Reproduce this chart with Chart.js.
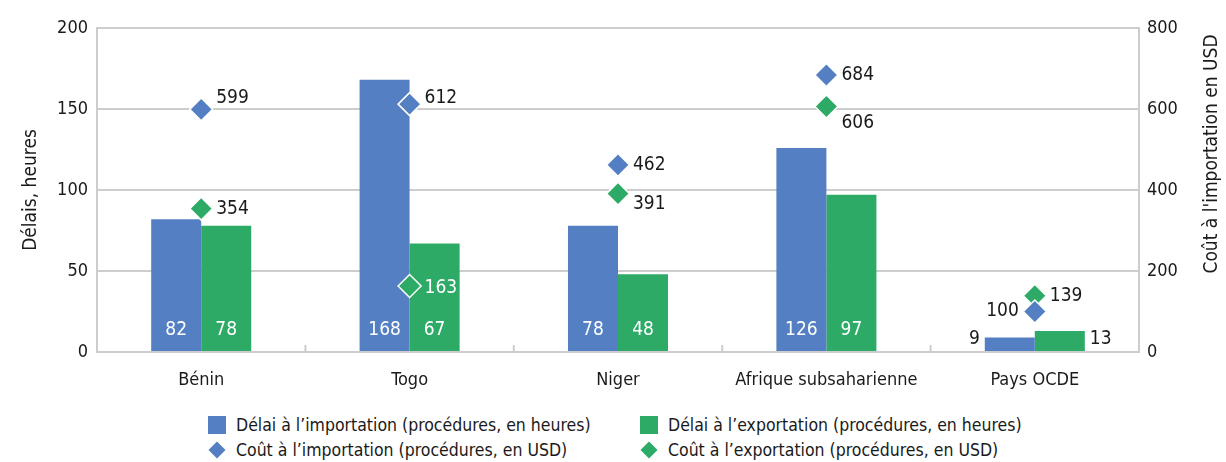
<!DOCTYPE html>
<html lang="fr">
<head>
<meta charset="utf-8">
<title>Délais et coûts à l'importation et à l'exportation</title>
<script src="https://cdn.jsdelivr.net/npm/chart.js@4.4.0/dist/chart.umd.min.js"></script>
<style>
    body { margin: 0; background: #fff; }
    #wrap { position: relative; width: 1226px; height: 462px; }
    #chartBox { position: absolute; left: 0; top: 0; width: 1226px; height: 400px; }
    #legend {
        position: absolute; left: 208px; top: 413px;
        display: grid; grid-template-columns: 432px auto; row-gap: 1px;
        font-family: 'DejaVu Sans Condensed', 'Liberation Sans', sans-serif;
        font-size: 17.5px; color: #1a1a1a;
    }
    .item { display: flex; align-items: center; height: 24px; white-space: nowrap; }
    .sq { width: 18px; height: 18px; margin-right: 10px; flex: none; }
    .dm { width: 12px; height: 12px; transform: rotate(45deg); margin: 0 13px 0 3px; flex: none; }
</style>
</head>
<body>
<div id="wrap">
    <div id="chartBox"><canvas id="tradeChart"></canvas></div>
    <div id="legend"></div>
</div>
<script>
// Data
const categories = ['Bénin', 'Togo', 'Niger', 'Afrique subsaharienne', 'Pays OCDE'];
const importTime = [82, 168, 78, 126, 9];
const exportTime = [78, 67, 48, 97, 13];
const importCost = [599, 612, 462, 684, 100];
const exportCost = [354, 163, 391, 606, 139];
const hoursTicks = [0, 50, 100, 150, 200];
const usdTicks = [0, 200, 400, 600, 800];
const seriesNames = [
    'Délai à l’importation (procédures, en heures)',
    'Délai à l’exportation (procédures, en heures)',
    'Coût à l’importation (procédures, en USD)',
    'Coût à l’exportation (procédures, en USD)'
];

const blue = '#5480c3';
const green = '#2dab66';
const textColor = '#1a1a1a';
const gridColor = '#cdcdcd';
const fontFamily = "'DejaVu Sans Condensed', 'Liberation Sans', sans-serif";

// Draws value labels on bars and next to the diamonds
const valueLabels = {
    id: 'valueLabels',
    afterDatasetsDraw(chart, args, opts) {
        const ctx = chart.ctx;
        ctx.save();
        ctx.font = `${opts.size}px ${fontFamily}`;
        ctx.textBaseline = 'middle';

        const rects = [];
        chart.data.datasets.forEach((ds, di) => {
            const meta = chart.getDatasetMeta(di);
            if (meta.type !== 'bar') return;
            meta.data.forEach((el) => {
                const p = el.getProps(['x', 'y', 'base', 'width'], true);
                rects.push({ l: p.x - p.width / 2, r: p.x + p.width / 2, t: p.y, b: p.base });
            });
        });

        chart.data.datasets.forEach((ds, di) => {
            const meta = chart.getDatasetMeta(di);
            meta.data.forEach((el, i) => {
                const value = ds.data[i];
                if (meta.type === 'bar') {
                    const p = el.getProps(['x', 'y', 'base', 'width'], true);
                    if (value >= opts.minInside) {
                        ctx.fillStyle = '#fff';
                        ctx.textAlign = 'center';
                        ctx.fillText(value, p.x, p.base - 21);
                    } else {
                        // short bars: label outside, beside the bar
                        ctx.fillStyle = textColor;
                        const leftSide = di === 0;
                        ctx.textAlign = leftSide ? 'right' : 'left';
                        const x = leftSide ? p.x - p.width / 2 - 5 : p.x + p.width / 2 + 5;
                        ctx.fillText(value, x, p.base - 12);
                    }
                } else {
                    const nudge = opts.nudge[di - 2] || [];
                    const dy = nudge[i] || 0;
                    const onLeft = (opts.leftOf[di - 2] || []).includes(i);
                    const x = onLeft ? el.x - 16 : el.x + 15;
                    const y = el.y + dy;
                    const probeX = onLeft ? x - 8 : x + 8;
                    const inside = rects.some(r => probeX > r.l && probeX < r.r && y > r.t && y < r.b);
                    ctx.fillStyle = inside ? '#fff' : textColor;
                    ctx.textAlign = onLeft ? 'right' : 'left';
                    ctx.fillText(value, x, y);
                }
            });
        });
        ctx.restore();
    }
};

// Small upward ticks between categories, and the right axis title read bottom-to-top
const axisExtras = {
    id: 'axisExtras',
    afterDraw(chart, args, opts) {
        const xs = chart.scales.x;
        const ctx = chart.ctx;
        const area = chart.chartArea;
        ctx.save();
        ctx.strokeStyle = gridColor;
        ctx.lineWidth = 2;
        for (let i = 0; i < categories.length - 1; i++) {
            const x = (xs.getPixelForValue(i) + xs.getPixelForValue(i + 1)) / 2;
            ctx.beginPath();
            ctx.moveTo(x, area.bottom);
            ctx.lineTo(x, area.bottom - 7);
            ctx.stroke();
        }

        ctx.translate(chart.width - 14, (area.top + area.bottom) / 2 - 36);
        ctx.rotate(-Math.PI / 2);
        ctx.font = `19px ${fontFamily}`;
        ctx.fillStyle = textColor;
        ctx.textAlign = 'center';
        ctx.textBaseline = 'middle';
        ctx.fillText(opts.rightTitle, 0, 0);
        ctx.restore();
    }
};

const ctx = document.getElementById('tradeChart').getContext('2d');

const tradeChart = new Chart(ctx, {
    type: 'bar',
    data: {
        labels: categories,
        datasets: [
            {
                label: seriesNames[0],
                data: importTime,
                backgroundColor: blue,
                categoryPercentage: 0.48,
                barPercentage: 1,
                yAxisID: 'y',
                order: 2
            },
            {
                label: seriesNames[1],
                data: exportTime,
                backgroundColor: green,
                categoryPercentage: 0.48,
                barPercentage: 1,
                yAxisID: 'y',
                order: 2
            },
            {
                type: 'line',
                label: seriesNames[2],
                data: importCost,
                showLine: false,
                pointStyle: 'rectRot',
                pointRadius: 11.5,
                pointBackgroundColor: blue,
                pointBorderColor: '#fff',
                pointBorderWidth: 1.5,
                yAxisID: 'y1',
                order: 0
            },
            {
                type: 'line',
                label: seriesNames[3],
                data: exportCost,
                showLine: false,
                pointStyle: 'rectRot',
                pointRadius: 11.5,
                pointBackgroundColor: green,
                pointBorderColor: '#fff',
                pointBorderWidth: 1.5,
                yAxisID: 'y1',
                order: 1
            }
        ]
    },
    options: {
        responsive: true,
        maintainAspectRatio: false,
        animation: false,
        events: [],
        layout: {
            padding: { top: 28, left: 20, right: 0, bottom: 0 }
        },
        plugins: {
            legend: { display: false },
            tooltip: { enabled: false },
            valueLabels: {
                size: 19,
                minInside: 20,
                // vertical nudges (px) of cost labels to keep them apart
                nudge: [[-11, -6, 0, 0, 0], [0, 2, 10, 16, 0]],
                leftOf: [[4], []]
            },
            axisExtras: {
                rightTitle: "Coût à l'importation en USD"
            }
        },
        scales: {
            x: {
                grid: { display: false, drawTicks: false },
                border: { display: true, color: gridColor, width: 2 },
                ticks: {
                    color: textColor,
                    font: { family: fontFamily, size: 18 },
                    padding: 18,
                    maxRotation: 0
                },
                afterFit: (scale) => { scale.height = 48; }
            },
            y: {
                position: 'left',
                min: hoursTicks[0],
                max: hoursTicks[hoursTicks.length - 1],
                afterBuildTicks: (scale) => { scale.ticks = hoursTicks.map(v => ({ value: v })); },
                grid: { color: gridColor, lineWidth: 2, drawTicks: false },
                border: { display: true, color: gridColor, width: 2 },
                ticks: {
                    color: textColor,
                    font: { family: fontFamily, size: 18 },
                    padding: 9
                },
                title: {
                    display: true,
                    text: 'Délais, heures',
                    color: textColor,
                    font: { family: fontFamily, size: 19 },
                    padding: { top: 0, bottom: 0 }
                },
                afterFit: (scale) => { scale.width = 77; }
            },
            y1: {
                position: 'right',
                min: usdTicks[0],
                max: usdTicks[usdTicks.length - 1],
                afterBuildTicks: (scale) => { scale.ticks = usdTicks.map(v => ({ value: v })); },
                grid: { drawOnChartArea: false, drawTicks: false },
                border: { display: true, color: gridColor, width: 2 },
                ticks: {
                    color: textColor,
                    font: { family: fontFamily, size: 18 },
                    padding: 8
                },
                afterFit: (scale) => { scale.width = 87; }
            }
        }
    },
    plugins: [valueLabels, axisExtras]
});

// HTML legend, two columns
const legendBox = document.getElementById('legend');
const markerColors = [blue, green, blue, green];
tradeChart.data.datasets.forEach((ds, i) => {
    const item = document.createElement('div');
    item.className = 'item';
    const mark = document.createElement('span');
    mark.className = ds.type === 'line' ? 'dm' : 'sq';
    mark.style.background = markerColors[i];
    const txt = document.createElement('span');
    txt.textContent = ds.label;
    item.appendChild(mark);
    item.appendChild(txt);
    legendBox.appendChild(item);
});
</script>
</body>
</html>
